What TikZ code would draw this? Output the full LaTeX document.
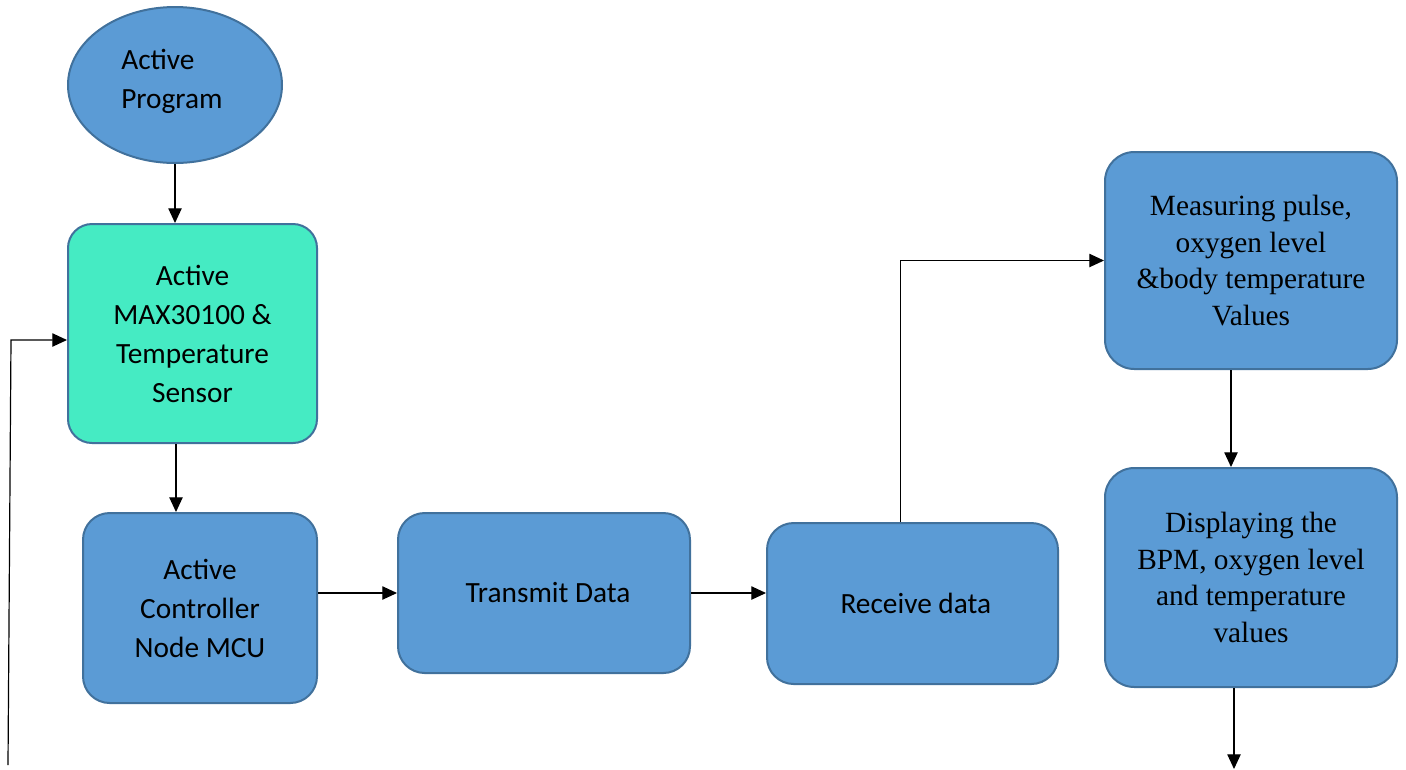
\documentclass[tikz,border=0pt]{standalone}
\usepackage{fontspec}
\setmainfont{Carlito}
\newfontfamily\timesfont{Liberation Serif}
\usetikzlibrary{arrows.meta,shapes.geometric}
\definecolor{boxblue}{HTML}{5B9BD5}
\definecolor{boxedge}{HTML}{41719C}
\definecolor{boxgreen}{HTML}{45EBC3}
\begin{document}
\begin{tikzpicture}[x=0.75pt,y=-0.75pt,
  box/.style={draw=boxedge,line width=1.5pt,fill=boxblue,rounded corners=20pt,align=center,inner sep=0pt,font=\fontsize{22}{29.25}\selectfont},
  serifbox/.style={box,rounded corners=22pt,font=\timesfont\fontsize{22}{27.4}\selectfont},
  link/.style={draw=black,line width=0.9pt,-{Triangle[length=11pt,width=10pt]}}]
\useasboundingbox (0,0) rectangle (1406,769);
% nodes
\node[ellipse,draw=boxedge,line width=1.5pt,fill=boxblue,minimum width=160.5pt,minimum height=117pt,inner sep=0pt] (ell) at (175,85) {};
\node[anchor=west,align=left,inner sep=0pt,font=\fontsize{22}{29.25}\selectfont] (elltext) at (121,81) {Active\\Program};
\node[box,fill=boxgreen,rounded corners=18pt,minimum width=186.75pt,minimum height=164.25pt] (green) at (192.5,333.5) {Active\\MAX30100 \&\\Temperature\\Sensor};
\node[box,minimum width=175.5pt,minimum height=142.5pt] (ctrl) at (200,608) {Active\\Controller\\Node MCU};
\node[box,minimum width=219pt,minimum height=120pt] (trans) at (544,593) {\hspace*{6pt}Transmit Data};
\node[box,minimum width=218.25pt,minimum height=120.75pt] (recv) at (912.5,603.5) {\hspace*{5pt}Receive data};
\node[serifbox,minimum width=219pt,minimum height=162.75pt] (meas) at (1251,260.5) {Measuring pulse,\\oxygen level\\\&body temperature\\Values};
\node[serifbox,minimum width=219pt,minimum height=164.25pt] (disp) at (1251,577.5) {Displaying the\\BPM, oxygen level\\and temperature\\values};
% free ends
\coordinate (endpt) at (1234,769);
\coordinate (fbstart) at (8,765);
\coordinate (fbturn) at (11,340);
% connectors
\draw[link] (ell.south) -- (ell.south |- green.north);
\draw[link] ([xshift=-18pt]ctrl.north |- green.south) -- ([xshift=-18pt]ctrl.north);
\draw[link] (trans.west -| ctrl.east) -- (trans.west);
\draw[link] (trans.east) -- (trans.east -| recv.west);
\draw[link] ([xshift=-9pt]recv.north) |- (meas.west);
\draw[link] ([xshift=-15pt]meas.south) -- ([xshift=-15pt]disp.north);
\draw[link] (disp.south -| endpt) -- (endpt);
\draw[link] (fbstart) -- (fbturn) -- (fbturn -| green.west);
\end{tikzpicture}
\end{document}
